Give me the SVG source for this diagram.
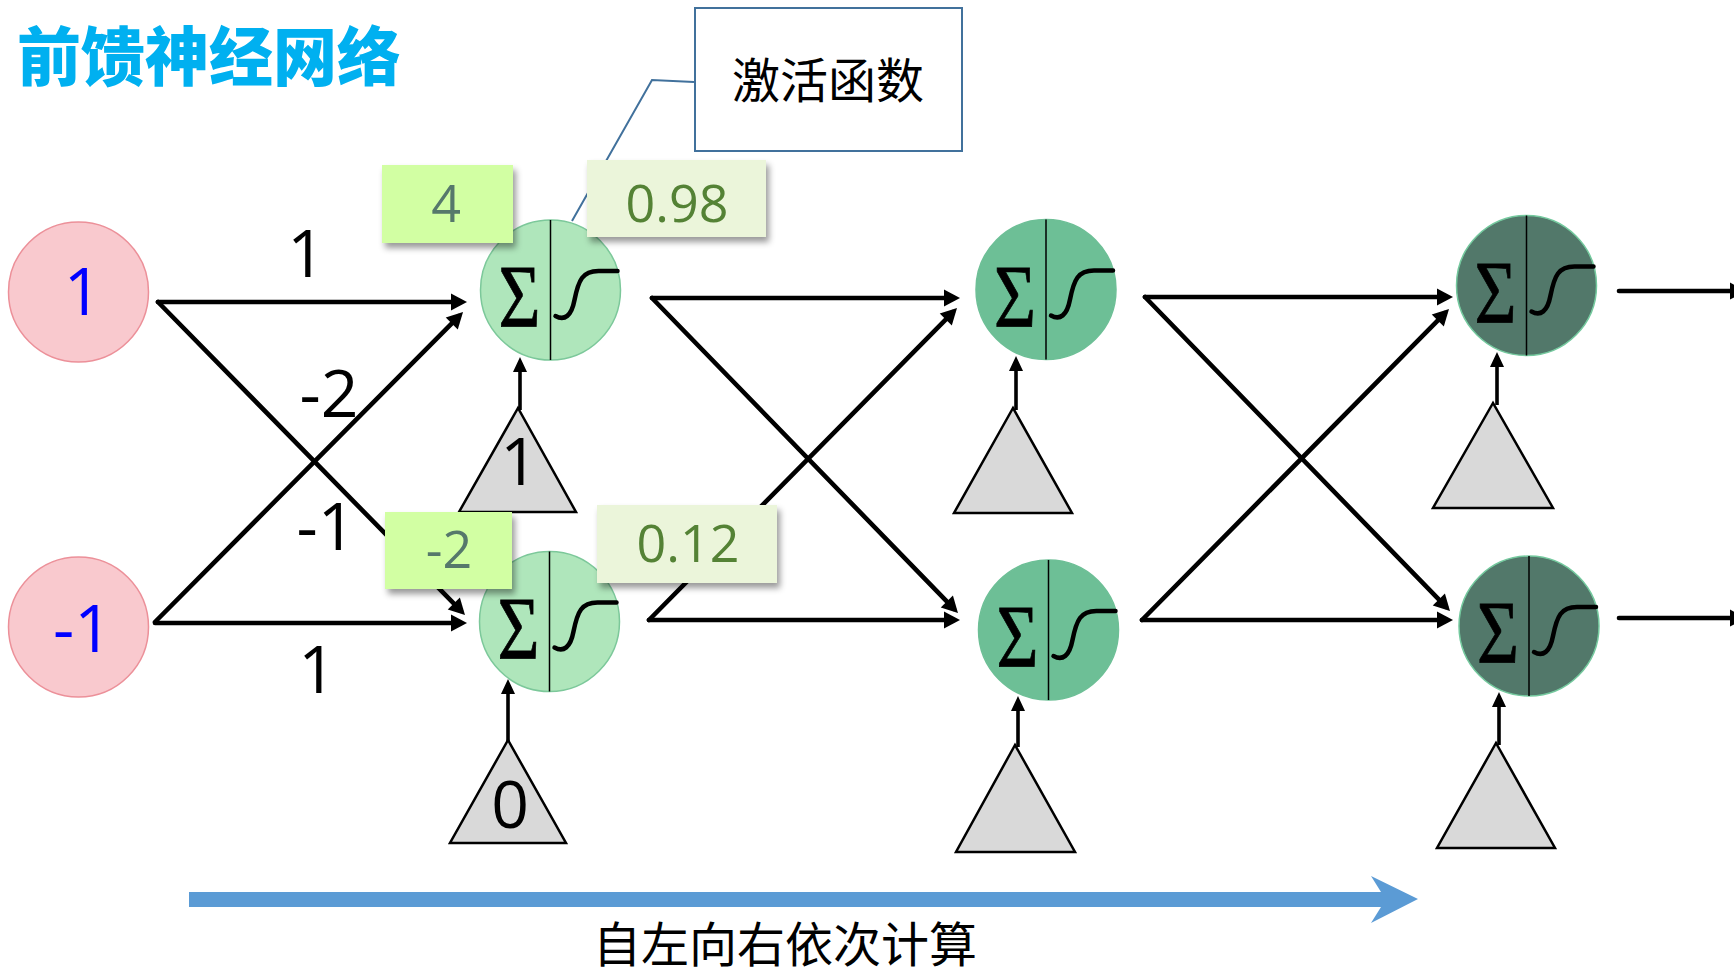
<svg xmlns="http://www.w3.org/2000/svg" width="1734" height="973" viewBox="0 0 1734 973">
<style>
.num{font-family:"Open Sans","Liberation Sans",sans-serif;}
.w{font-size:66px;fill:#000;text-anchor:middle;}
.inp{font-size:66px;fill:#0000FF;text-anchor:middle;}
.lbl{font-size:52px;text-anchor:middle;}
.cjk{font-family:"Noto Sans CJK SC","Noto Sans",sans-serif;}
.sig{font-family:"Liberation Serif","DejaVu Serif",serif;font-size:88px;fill:#000;stroke:#000;stroke-width:0.8;}
.curve{fill:none;stroke:#000;stroke-width:4.5;stroke-linecap:round;}
.div{stroke:#000;stroke-width:1.5;}
.conn{stroke:#000;stroke-width:4.6;fill:none;stroke-linecap:round;marker-end:url(#ah);}
.bias{stroke:#000;stroke-width:3.6;fill:none;marker-end:url(#ahs);}
.tri{fill:#D9D9D9;stroke:#000;stroke-width:2.5;stroke-linejoin:miter;}
.l1{fill:#AFE6BB;stroke:#7CC89A;stroke-width:1.5;}
.l2{fill:#6DBF96;stroke:#6DBF96;stroke-width:1.5;}
.l3{fill:#52786A;stroke:#74C99E;stroke-width:1.5;}
.in{fill:#F9C9CE;stroke:#EC9099;stroke-width:1.5;}
.boxA{fill:#D2FFA3;filter:url(#sh);}
.boxB{fill:#EBF5DA;filter:url(#sh);}
</style>
<defs>
<marker id="ah" markerUnits="userSpaceOnUse" markerWidth="16" markerHeight="17" refX="10" refY="8.5" orient="auto" overflow="visible">
<path d="M0,0 L16,8.5 L0,17 z" fill="#000"/>
</marker>
<marker id="ahs" markerUnits="userSpaceOnUse" markerWidth="15" markerHeight="14" refX="9" refY="7" orient="auto" overflow="visible">
<path d="M0,0 L15,7 L0,14 z" fill="#000"/>
</marker>
<filter id="sh" x="-20%" y="-20%" width="150%" height="160%">
<feDropShadow dx="3" dy="5" stdDeviation="3" flood-color="#000" flood-opacity="0.4"/>
</filter>
</defs>
<rect width="1734" height="973" fill="#FFFFFF"/>

<text x="17" y="80" class="cjk" font-size="64" font-weight="900" fill="#00B0F0">前馈神经网络</text>

<g id="callout">
<polyline points="694,82 652,80 572,221" fill="none" stroke="#41719C" stroke-width="2"/>
<rect x="695" y="8" width="267" height="143" fill="#FFFFFF" stroke="#41719C" stroke-width="2"/>
<text x="828" y="98" class="cjk" font-size="48" text-anchor="middle" fill="#000">激活函数</text>
</g>

<g id="connectors">
<line class="conn" x1="158" y1="302" x2="461" y2="302"/>
<line class="conn" x1="158" y1="302" x2="460.8" y2="610.7"/>
<line class="conn" x1="155" y1="622" x2="458.8" y2="316.3"/>
<line class="conn" x1="155" y1="623" x2="461" y2="623"/>
<line class="conn" x1="652" y1="298" x2="954" y2="298"/>
<line class="conn" x1="652" y1="298" x2="953.8" y2="608.7"/>
<line class="conn" x1="649" y1="620" x2="952.8" y2="312.3"/>
<line class="conn" x1="649" y1="620" x2="954" y2="620"/>
<line class="conn" x1="1145" y1="297" x2="1447" y2="297"/>
<line class="conn" x1="1145" y1="297" x2="1445.8" y2="606.7"/>
<line class="conn" x1="1142" y1="620" x2="1444.8" y2="313.3"/>
<line class="conn" x1="1142" y1="620" x2="1447" y2="620"/>
<line class="conn" x1="1619" y1="291" x2="1740" y2="291"/>
<line class="conn" x1="1619" y1="618" x2="1740" y2="618"/>
<line class="bias" x1="520" y1="410" x2="520" y2="363"/>
<line class="bias" x1="508" y1="742" x2="508" y2="685"/>
<line class="bias" x1="1016" y1="410" x2="1016" y2="362"/>
<line class="bias" x1="1018" y1="747" x2="1018" y2="702"/>
<line class="bias" x1="1497" y1="405" x2="1497" y2="358"/>
<line class="bias" x1="1499" y1="745" x2="1499" y2="698"/>
</g>

<g id="input-1" transform="translate(78.5,292)">
<circle r="70" class="in"/>
<text x="4" y="23" class="num inp">1</text>
</g>
<g id="input-2" transform="translate(78.5,627)">
<circle r="70" class="in"/>
<text x="4" y="25" class="num inp">-1</text>
</g>

<g id="weight-labels">
<text x="306" y="277" class="num w">1</text>
<text x="329" y="417" class="num w">-2</text>
<text x="326" y="550" class="num w">-1</text>
<text x="317" y="693" class="num w">1</text>
</g>

<g id="h1-top" transform="translate(550.5,290)">
<circle r="70" class="l1"/>
<line class="div" x1="0" y1="-70" x2="0" y2="70"/>
<text x="-52" y="36" class="sig" textLength="42" lengthAdjust="spacingAndGlyphs">Σ</text>
<path class="curve" d="M5,26 C14,31 21,26 24,10 C28,-10 32,-19 48,-19 L67,-19"/>
</g>
<g id="h1-bottom" transform="translate(549.5,621.5)">
<circle r="70" class="l1"/>
<line class="div" x1="0" y1="-70" x2="0" y2="70"/>
<text x="-52" y="36" class="sig" textLength="42" lengthAdjust="spacingAndGlyphs">Σ</text>
<path class="curve" d="M5,26 C14,31 21,26 24,10 C28,-10 32,-19 48,-19 L67,-19"/>
</g>
<g id="h2-top" transform="translate(1046,289.5)">
<circle r="70" class="l2"/>
<line class="div" x1="0" y1="-70" x2="0" y2="70"/>
<text x="-52" y="36" class="sig" textLength="42" lengthAdjust="spacingAndGlyphs">Σ</text>
<path class="curve" d="M5,26 C14,31 21,26 24,10 C28,-10 32,-19 48,-19 L67,-19"/>
</g>
<g id="h2-bottom" transform="translate(1048.5,630)">
<circle r="70" class="l2"/>
<line class="div" x1="0" y1="-70" x2="0" y2="70"/>
<text x="-52" y="36" class="sig" textLength="42" lengthAdjust="spacingAndGlyphs">Σ</text>
<path class="curve" d="M5,26 C14,31 21,26 24,10 C28,-10 32,-19 48,-19 L67,-19"/>
</g>
<g id="out-top" transform="translate(1526.5,285.5)">
<circle r="70" class="l3"/>
<line class="div" x1="0" y1="-70" x2="0" y2="70"/>
<text x="-52" y="36" class="sig" textLength="42" lengthAdjust="spacingAndGlyphs">Σ</text>
<path class="curve" d="M5,26 C14,31 21,26 24,10 C28,-10 32,-19 48,-19 L67,-19"/>
</g>
<g id="out-bottom" transform="translate(1529,626)">
<circle r="70" class="l3"/>
<line class="div" x1="0" y1="-70" x2="0" y2="70"/>
<text x="-52" y="36" class="sig" textLength="42" lengthAdjust="spacingAndGlyphs">Σ</text>
<path class="curve" d="M5,26 C14,31 21,26 24,10 C28,-10 32,-19 48,-19 L67,-19"/>
</g>

<g id="bias-h1-top">
<polygon class="tri" points="518,408 459,512 576,512"/>
<text x="519" y="485" class="num w">1</text>
</g>
<g id="bias-h1-bottom">
<polygon class="tri" points="508,740 450,843 566,843"/>
<text x="510" y="828" class="num w">0</text>
</g>
<g id="bias-h2-top">
<polygon class="tri" points="1013,408 954,513 1072,513"/>
</g>
<g id="bias-h2-bottom">
<polygon class="tri" points="1015,745 956,852 1075,852"/>
</g>
<g id="bias-out-top">
<polygon class="tri" points="1493,403 1433,508 1553,508"/>
</g>
<g id="bias-out-bottom">
<polygon class="tri" points="1496,743 1437,848 1555,848"/>
</g>

<g id="val-4">
<rect x="382" y="165" width="131" height="78" class="boxA"/>
<text x="446" y="222" class="num lbl" fill="#56786B">4</text>
</g>
<g id="val-0.98">
<rect x="587" y="160" width="179" height="77" class="boxB"/>
<text x="677" y="222" class="num lbl" fill="#548235">0.98</text>
</g>
<g id="val-m2">
<rect x="385" y="512" width="127" height="77" class="boxA"/>
<text x="449" y="568" class="num lbl" fill="#56786B">-2</text>
</g>
<g id="val-0.12">
<rect x="597" y="505" width="180" height="78" class="boxB"/>
<text x="688" y="562" class="num lbl" fill="#548235">0.12</text>
</g>

<g id="direction">
<polygon points="189,892 1381,892 1371,876 1418,899 1371,923 1381,907 189,907" fill="#5B9BD5"/>
<text x="785" y="962" class="cjk" font-size="48" text-anchor="middle" fill="#000">自左向右依次计算</text>
</g>
</svg>
